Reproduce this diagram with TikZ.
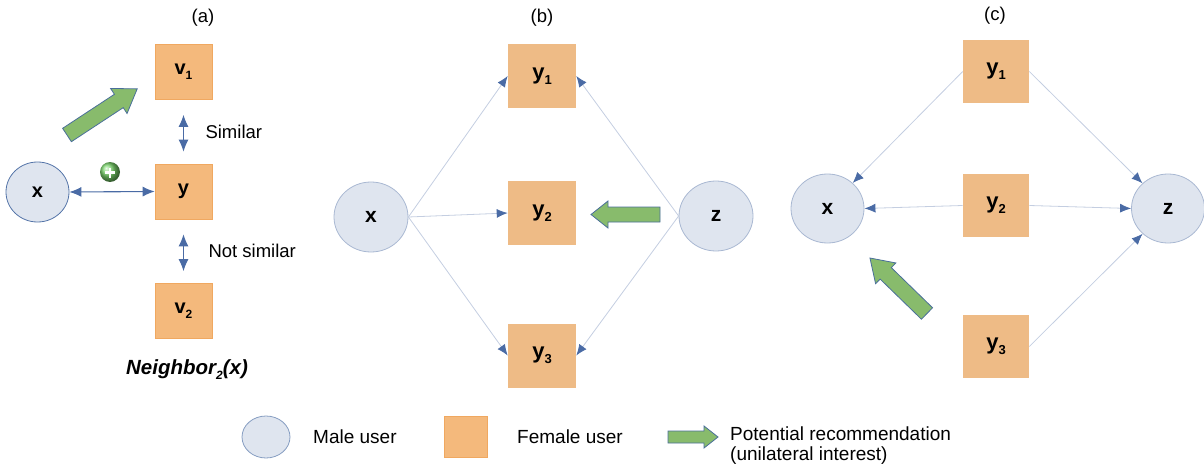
\documentclass[tikz,border=0pt]{standalone}
\usepackage{fontspec}
\setmainfont{Liberation Sans}
\usepackage{xcolor}
\usepackage{tikz}
\usetikzlibrary{shapes,positioning,calc,arrows.meta}

\definecolor{malefill}{HTML}{DFE5EF}
\definecolor{maleline}{HTML}{5474A8}
\definecolor{malelight}{HTML}{A9B8D2}
\definecolor{femfill}{HTML}{F4B97C}
\definecolor{femline}{HTML}{F0A860}
\definecolor{femsoft}{HTML}{EEBB86}
\definecolor{reccolor}{HTML}{88BB6C}
\definecolor{recline}{HTML}{4A6F9A}
\definecolor{linkgray}{HTML}{C4CEE1}
\definecolor{tipblue}{HTML}{4A6BA5}
\definecolor{plusgreen}{HTML}{7AD46C}

\newcommand{\sub}[2][12]{\raisebox{-5pt}{\fontsize{#1}{#1}\selectfont #2}}
% tail, angle, length, shaft half width, head half width, head length
\newcommand{\recarrow}[6]{%
  \begin{scope}[shift={#1}, rotate=#2]
    \filldraw[recommend] (0,-#4) -- ({#3-#6},-#4) -- ({#3-#6},-#5) -- (#3,0)
      -- ({#3-#6},#5) -- ({#3-#6},#4) -- (0,#4) -- cycle;
  \end{scope}}

\tikzset{
  male/.style={ellipse, fill=malefill, draw=malelight, line width=0.8pt, inner sep=0pt,
    font=\bfseries\fontsize{21}{22}\selectfont},
  female/.style={rectangle, fill=femfill, draw=femline, line width=0.6pt, inner sep=0pt,
    font=\bfseries\fontsize{21}{22}\selectfont},
  link/.style={draw=linkgray, line width=0.8pt, -{Latex[color=tipblue,length=11pt,width=9pt]}},
  bilink/.style={draw=tipblue, line width=1.1pt,
    {Latex[length=12pt,width=10pt]}-{Latex[length=12pt,width=10pt]}},
  recommend/.style={fill=reccolor, draw=recline, line width=0.8pt, line join=miter},
  label/.style={font=\fontsize{18.5}{21}\selectfont, inner sep=0pt},
}

\begin{document}
\begin{tikzpicture}[x=1pt, y=-1pt]
    \useasboundingbox (0,0) rectangle (1204,468);

    % (a)
    \node[label] (atitle) at (203,18) {(a)};
    \node[female, minimum width=57, minimum height=55, font=\bfseries\fontsize{20}{22}\selectfont] (av1) at (183.5,72) {v\sub{1}};
    \node[female, minimum width=57, minimum height=55, font=\bfseries\fontsize{20}{22}\selectfont] (ay) at (183.5,191.5) {y};
    \node[female, minimum width=57, minimum height=55, font=\bfseries\fontsize{20}{22}\selectfont] (av2) at (183.5,311) {v\sub{2}};
    \node[male, draw=maleline, minimum width=63, minimum height=60, font=\bfseries\fontsize{20}{22}\selectfont] (ax) at (37.5,192) {x};
    \draw[bilink] (ax.east) -- (ay.west);
    \draw[bilink, shorten <=15, shorten >=12] (av1) -- (ay)
        node[label, midway, anchor=west, xshift=21.5] (sim) {Similar};
    \draw[bilink, shorten <=15, shorten >=12] (ay) -- (av2)
        node[label, midway, anchor=west, xshift=24.5] (nsim) {Not similar};
    \node[circle, minimum size=20, inner sep=0pt, shading=ball, ball color=plusgreen] (plus) at (110,172) {};
    \draw[white, line width=2.4pt] ($(plus)+(-5,0.5)$) -- ($(plus)+(5,0.5)$)
        ($(plus)+(0,-4.5)$) -- ($(plus)+(0,5.5)$);
    \recarrow{(67,135)}{33.3}{84}{8}{15}{22}
    \node[label, font=\bfseries\itshape\fontsize{20.5}{22}\selectfont] (nb) at (187,370) {Neighbor\sub[12]{2}(x)};

    % (b)
    \node[label] (btitle) at (542,18) {(b)};
    \foreach \i/\y in {1/76, 2/213, 3/355.5} {
        \node[female, draw=none, fill=femsoft, minimum width=68, minimum height=64, font=\bfseries\fontsize{22}{24}\selectfont] (by\i) at (542,\y) {y\sub[13]{\i}};
    }
    \node[male, minimum width=74, minimum height=70] (bx) at (371,217) {x};
    \node[male, minimum width=74, minimum height=70] (bz) at (716,216) {z};
    \foreach \i in {1,2,3} {
        \draw[link] (bx.east) -- (by\i.west);
    }
    \draw[link] (bz.west) -- (by1.east);
    \draw[link] (bz.west) -- (by3.east);
    \recarrow{(660,214.5)}{180}{69}{7.5}{13.5}{17}

    % (c)
    \node[label] (ctitle) at (995,16) {(c)};
    \foreach \i/\y in {1/71.5, 2/205.5, 3/346.5} {
        \node[female, draw=none, fill=femsoft, minimum width=66, minimum height=63, font=\bfseries\fontsize{22}{24}\selectfont] (cy\i) at (996,\y) {y\sub[13]{\i}};
    }
    \node[male, minimum width=73, minimum height=69] (cx) at (827.5,208.5) {x};
    \node[male, minimum width=73, minimum height=69] (cz) at (1168,208.5) {z};
    \draw[link] (cy1.west) -- (cx);
    \draw[link] (cy2.west) -- (cx.east);
    \draw[link] (cy1.east) -- (cz);
    \draw[link] (cy2.east) -- (cz.west);
    \draw[link] (cy3.east) -- (cz);
    \recarrow{(927,313.5)}{135.8}{79.6}{8}{14.5}{22}

    % legend
    \node[male, draw=maleline!70, minimum width=48, minimum height=42] (lmale) at (266,437) {};
    \node[label, font=\fontsize{19}{21}\selectfont, anchor=west] (lmaletext) at (313,437) {Male user};
    \node[female, minimum width=43, minimum height=41] (lfem) at (465.5,436.5) {};
    \node[label, font=\fontsize{19}{21}\selectfont, anchor=west] (lfemtext) at (517,437) {Female user};
    \recarrow{(668,437)}{0}{50}{6}{11}{14}
    \node[label, font=\fontsize{19}{20}\selectfont, anchor=west, align=left] (lrectext) at (730,446) {Potential recommendation\\(unilateral interest)};
\end{tikzpicture}
\end{document}
